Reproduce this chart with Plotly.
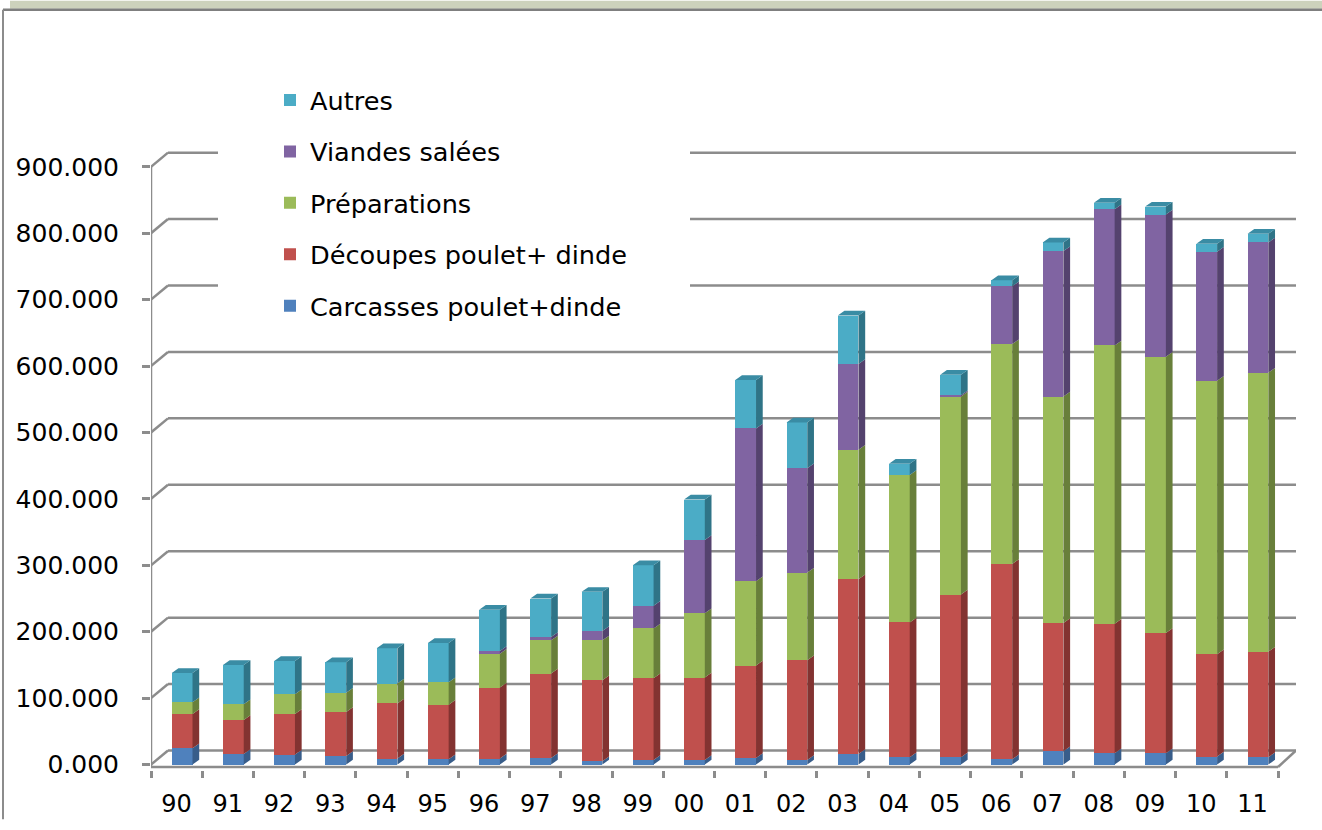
import plotly.graph_objects as go
import numpy as np

# ---------------- data ----------------
years = ["90", "91", "92", "93", "94", "95", "96", "97", "98", "99", "00",
         "01", "02", "03", "04", "05", "06", "07", "08", "09", "10", "11"]
carcasses = [24.6, 16, 15, 13, 9, 8, 9, 10, 5, 7, 7, 10, 7, 16, 11, 11, 8, 20, 17, 17, 12, 11]
decoupes = [51.4, 51, 61, 66, 83, 82, 107, 127, 122, 123, 124, 139, 150, 263, 203, 245, 294, 193, 195, 181, 154, 159]
preparations = [18, 24, 30, 29, 30, 34, 51, 50, 60, 75, 97, 127, 132, 195, 222, 298, 331, 341, 419, 416, 412, 420]
viandes = [0, 0, 0, 0, 0, 0, 4, 5, 14, 34, 110, 230, 157, 129, 0, 2, 87, 219, 205, 214, 194, 196]
autres = [44, 59, 50, 46, 53, 59, 62, 58, 59, 61, 61, 73, 69, 73, 17, 31, 9, 13, 10, 12, 12, 13]

series_names = ["Carcasses poulet+dinde", "Découpes poulet+ dinde", "Préparations",
                "Viandes salées", "Autres"]
series_values = [carcasses, decoupes, preparations, viandes, autres]
y_ticks = [0, 100, 200, 300, 400, 500, 600, 700, 800, 900]

# ---------------- style ----------------
front_colors = ["#4F81BD", "#C0504D", "#9BBB59", "#8064A2", "#4BACC6"]
side_colors = ["#385D8A", "#833331", "#687F3A", "#54426E", "#2F7487"]
top_color = "#3A8CA4"
grid_color = "#8C8C8C"
FONT = "DejaVu Sans"

# geometry (pixels)
FIG_W, FIG_H = 1322, 830
L, R, T, B = 151, 1296, 60, 780
cat_px = 51.23
px_per_unit = 0.6736
y0_px = 774.5

x_min = -0.5
x_max = -0.5 + (R - L) / cat_px
y_min = (y0_px - B) / px_per_unit
y_max = (y0_px - T) / px_per_unit
y_floor = (y0_px - 777) / px_per_unit

bar_offset = -0.095
bar_width = 0.405
depth_dx = 6.7 / cat_px
depth_dy = 4.8 / px_per_unit
wall_dx = 17 / cat_px
wall_dy = 14.3 / px_per_unit


def px_to_paper_x(px):
    return (px - L) / (R - L)


def px_to_paper_y(py):
    return (B - py) / (B - T)


def px_to_data_x(px):
    return x_min + (px - L) / cat_px


def px_to_data_y(py):
    return (y0_px - py) / px_per_unit


xs = np.arange(len(years))

fig = go.Figure()

# front faces
n_series = len(series_names)
for i, (name, vals, col) in enumerate(zip(series_names, series_values, front_colors)):
    fig.add_trace(go.Bar(
        x=xs, y=vals, name=name, width=bar_width, offset=bar_offset,
        marker=dict(color=col, line=dict(width=0)),
        legendgroup=name, legendrank=n_series - i,
    ))

# 3D side faces and top faces
base = np.zeros(len(years))
for vals, scol in zip(series_values, side_colors):
    v = np.array(vals, dtype=float)
    px_, py_ = [], []
    for j in range(len(years)):
        if v[j] <= 0:
            continue
        xr = xs[j] + bar_offset + bar_width
        b0, b1 = base[j], base[j] + v[j]
        px_ += [xr, xr + depth_dx, xr + depth_dx, xr, xr, None]
        py_ += [b0, b0 + depth_dy, b1 + depth_dy, b1, b0, None]
    fig.add_trace(go.Scatter(x=px_, y=py_, mode="lines", fill="toself",
                             fillcolor=scol, line=dict(width=0, color=scol),
                             showlegend=False, hoverinfo="skip"))
    base = base + v

tx, ty = [], []
for j in range(len(years)):
    xl = xs[j] + bar_offset
    xr = xl + bar_width
    top = base[j]
    tx += [xl, xl + depth_dx, xr + depth_dx, xr, xl, None]
    ty += [top, top + depth_dy, top + depth_dy, top, top, None]
fig.add_trace(go.Scatter(x=tx, y=ty, mode="lines", fill="toself",
                         fillcolor=top_color, line=dict(width=0, color=top_color),
                         showlegend=False, hoverinfo="skip"))

# ---------------- decorations ----------------
shapes = []
line_style = dict(color=grid_color, width=2.5)
for v in y_ticks:
    shapes.append(dict(type="line", xref="x", yref="y", layer="below",
                       x0=x_min, y0=v, x1=x_min + wall_dx, y1=v + wall_dy, line=line_style))
    shapes.append(dict(type="line", xref="x", yref="y", layer="below",
                       x0=x_min + wall_dx, y0=v + wall_dy, x1=x_max, y1=v + wall_dy, line=line_style))
# front floor edge and right diagonal
shapes.append(dict(type="line", xref="x", yref="y", layer="below",
                   x0=x_min, y0=y_floor, x1=len(years) - 0.5, y1=y_floor, line=line_style))
shapes.append(dict(type="line", xref="x", yref="y", layer="below",
                   x0=len(years) - 0.5, y0=y_floor, x1=x_max, y1=wall_dy, line=line_style))
# vertical axis
shapes.append(dict(type="line", xref="x", yref="y", layer="below",
                   x0=x_min, y0=y_floor, x1=x_min, y1=y_ticks[-1], line=line_style))
# white area behind legend (hides back-wall grid lines)
shapes.append(dict(type="rect", xref="x", yref="y", layer="below",
                   x0=px_to_data_x(218), x1=px_to_data_x(690),
                   y0=px_to_data_y(330), y1=px_to_data_y(140),
                   fillcolor="white", line=dict(width=0)))
# top band and outer border
shapes.append(dict(type="rect", xref="paper", yref="paper", layer="above",
                   x0=px_to_paper_x(10), x1=px_to_paper_x(FIG_W),
                   y0=px_to_paper_y(8), y1=px_to_paper_y(0),
                   fillcolor="#CDD2BC", line=dict(width=0)))
shapes.append(dict(type="line", xref="paper", yref="paper", layer="above",
                   x0=px_to_paper_x(3), x1=px_to_paper_x(FIG_W),
                   y0=px_to_paper_y(9), y1=px_to_paper_y(9),
                   line=dict(color="#7F7F7F", width=2.5)))
shapes.append(dict(type="line", xref="paper", yref="paper", layer="above",
                   x0=px_to_paper_x(3), x1=px_to_paper_x(3),
                   y0=px_to_paper_y(9), y1=px_to_paper_y(FIG_H),
                   line=dict(color="#8C8C8C", width=2)))

fig.update_layout(
    width=FIG_W, height=FIG_H,
    margin=dict(l=L, r=FIG_W - R, t=T, b=FIG_H - B),
    barmode="stack",
    plot_bgcolor="white", paper_bgcolor="white",
    font=dict(family=FONT, size=25, color="black"),
    shapes=shapes,
    legend=dict(
        x=px_to_paper_x(270), xanchor="left",
        y=px_to_paper_y(77), yanchor="top",
        traceorder="grouped", tracegroupgap=15.2,
        bgcolor="rgba(0,0,0,0)", borderwidth=0,
        font=dict(family=FONT, size=25.6, color="black"),
    ),
    xaxis=dict(
        range=[x_min, x_max], tickvals=xs, ticktext=years,
        ticks="", showgrid=False, zeroline=False, showline=False,
        ticklabelstandoff=17,
        minor=dict(tickvals=[k - 0.5 for k in range(len(years) + 1)],
                   ticks="outside", ticklen=7, tickwidth=2.5, tickcolor=grid_color,
                   showgrid=False),
        tickfont=dict(family=FONT, size=24, color="black"),
    ),
    yaxis=dict(
        range=[y_min, y_max], tickvals=y_ticks, tickformat=".3f",
        ticks="outside", ticklen=8, tickwidth=2.5, tickcolor=grid_color,
        showgrid=False, zeroline=False, showline=False,
        ticklabelstandoff=18,
        tickfont=dict(family=FONT, size=25, color="black"),
    ),
)

page_css = (
    "var h=document.documentElement, b=document.body;"
    "h.style.margin='0';h.style.padding='0';h.style.overflow='hidden';"
    "b.style.margin='0';b.style.padding='0';b.style.overflow='hidden';"
    "var d=document.getElementsByClassName('plotly-graph-div')[0];"
    "if(d){d.style.position='fixed';d.style.top='0px';d.style.left='0px';}"
)

fig.write_html("out.html", config={"displayModeBar": False}, post_script=page_css)
